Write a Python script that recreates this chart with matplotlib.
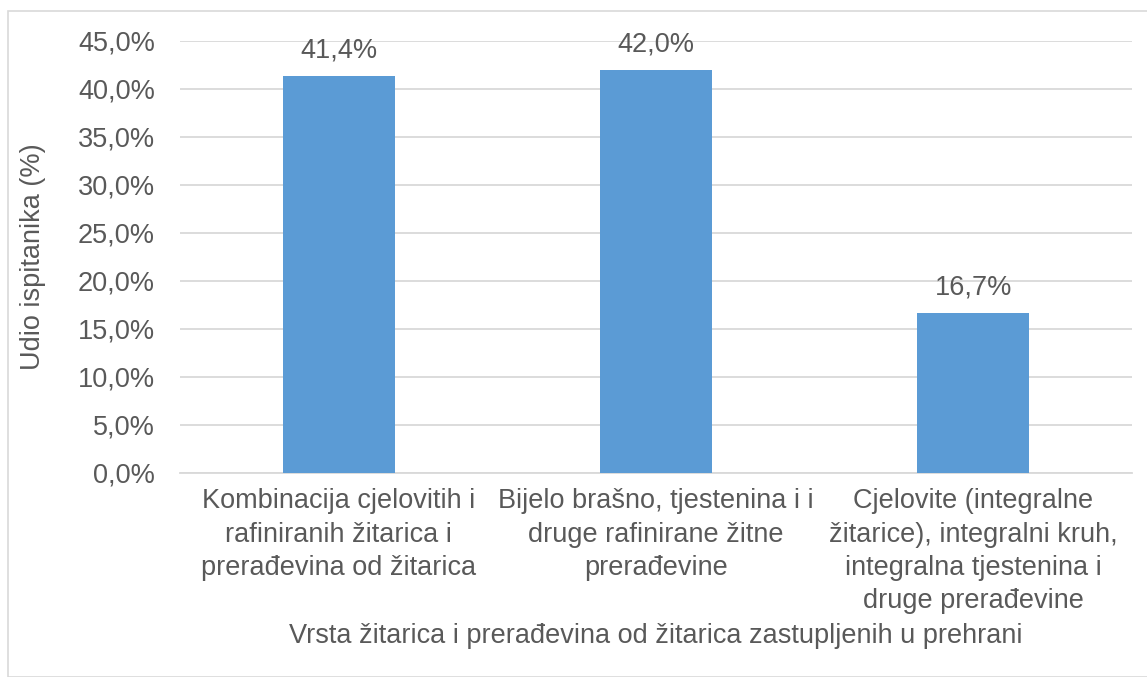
import matplotlib
matplotlib.use("Agg")
import matplotlib.pyplot as plt
from matplotlib.patches import Rectangle
from matplotlib.ticker import FuncFormatter

categories = [
    "Kombinacija cjelovitih i\nrafiniranih žitarica i\nprerađevina od žitarica",
    "Bijelo brašno, tjestenina i i\ndruge rafinirane žitne\nprerađevine",
    "Cjelovite (integralne\nžitarice), integralni kruh,\nintegralna tjestenina i\ndruge prerađevine",
]
values = [0.414, 0.420, 0.167]
value_labels = ["41,4%", "42,0%", "16,7%"]
yticks = [0.0, 0.05, 0.10, 0.15, 0.20, 0.25, 0.30, 0.35, 0.40, 0.45]

plt.rcParams['font.family'] = ['Liberation Sans', 'DejaVu Sans']
TXT = '#595959'
FS = 19.5

W, H = 1147, 677
fig = plt.figure(figsize=(W/100, H/100), dpi=100)
fig.patches.append(Rectangle((8/W, 0), 1.2, 1 - 11/H, transform=fig.transFigure,
                             fill=False, edgecolor='#d9d9d9', linewidth=1.2))

ax = fig.add_axes([180/W, 1 - 473/H, (1132-180)/W, (473-41)/H])
x = range(len(categories))
bars = ax.bar(x, values, width=0.353, color='#5b9bd5', zorder=3)
for b, lab in zip(bars, value_labels):
    ax.annotate(lab, (b.get_x() + b.get_width()/2, b.get_height()),
                xytext=(0, 8.5), textcoords='offset points', ha='center', va='bottom',
                fontsize=FS, color=TXT)

ax.set_xlim(-0.5, 2.5)
ax.set_ylim(0, 0.45)
ax.set_yticks(yticks)
ax.yaxis.set_major_formatter(FuncFormatter(lambda v, p: f"{v*100:.1f}%".replace('.', ',')))
ax.set_xticks(list(x))
ax.set_xticklabels(categories, fontsize=FS, color=TXT, linespacing=1.37)
ax.tick_params(axis='y', labelsize=FS, labelcolor=TXT, length=0, pad=18)
ax.tick_params(axis='x', length=0, pad=11)
ax.grid(axis='y', color='#d9d9d9', linewidth=1.3, zorder=0)
for s in ['top', 'right', 'left']:
    ax.spines[s].set_visible(False)
ax.spines['bottom'].set_color('#d9d9d9')
ax.spines['bottom'].set_linewidth(1.3)

fig.text(33/W, 1 - 257/H, "Udio ispitanika (%)", rotation=90,
         ha='center', va='center', fontsize=FS, color=TXT)
fig.text(656/W, 1 - 636/H, "Vrsta žitarica i prerađevina od žitarica zastupljenih u prehrani",
         ha='center', va='center', fontsize=FS, color=TXT)

fig.savefig("out.png", dpi=100, facecolor='white')
